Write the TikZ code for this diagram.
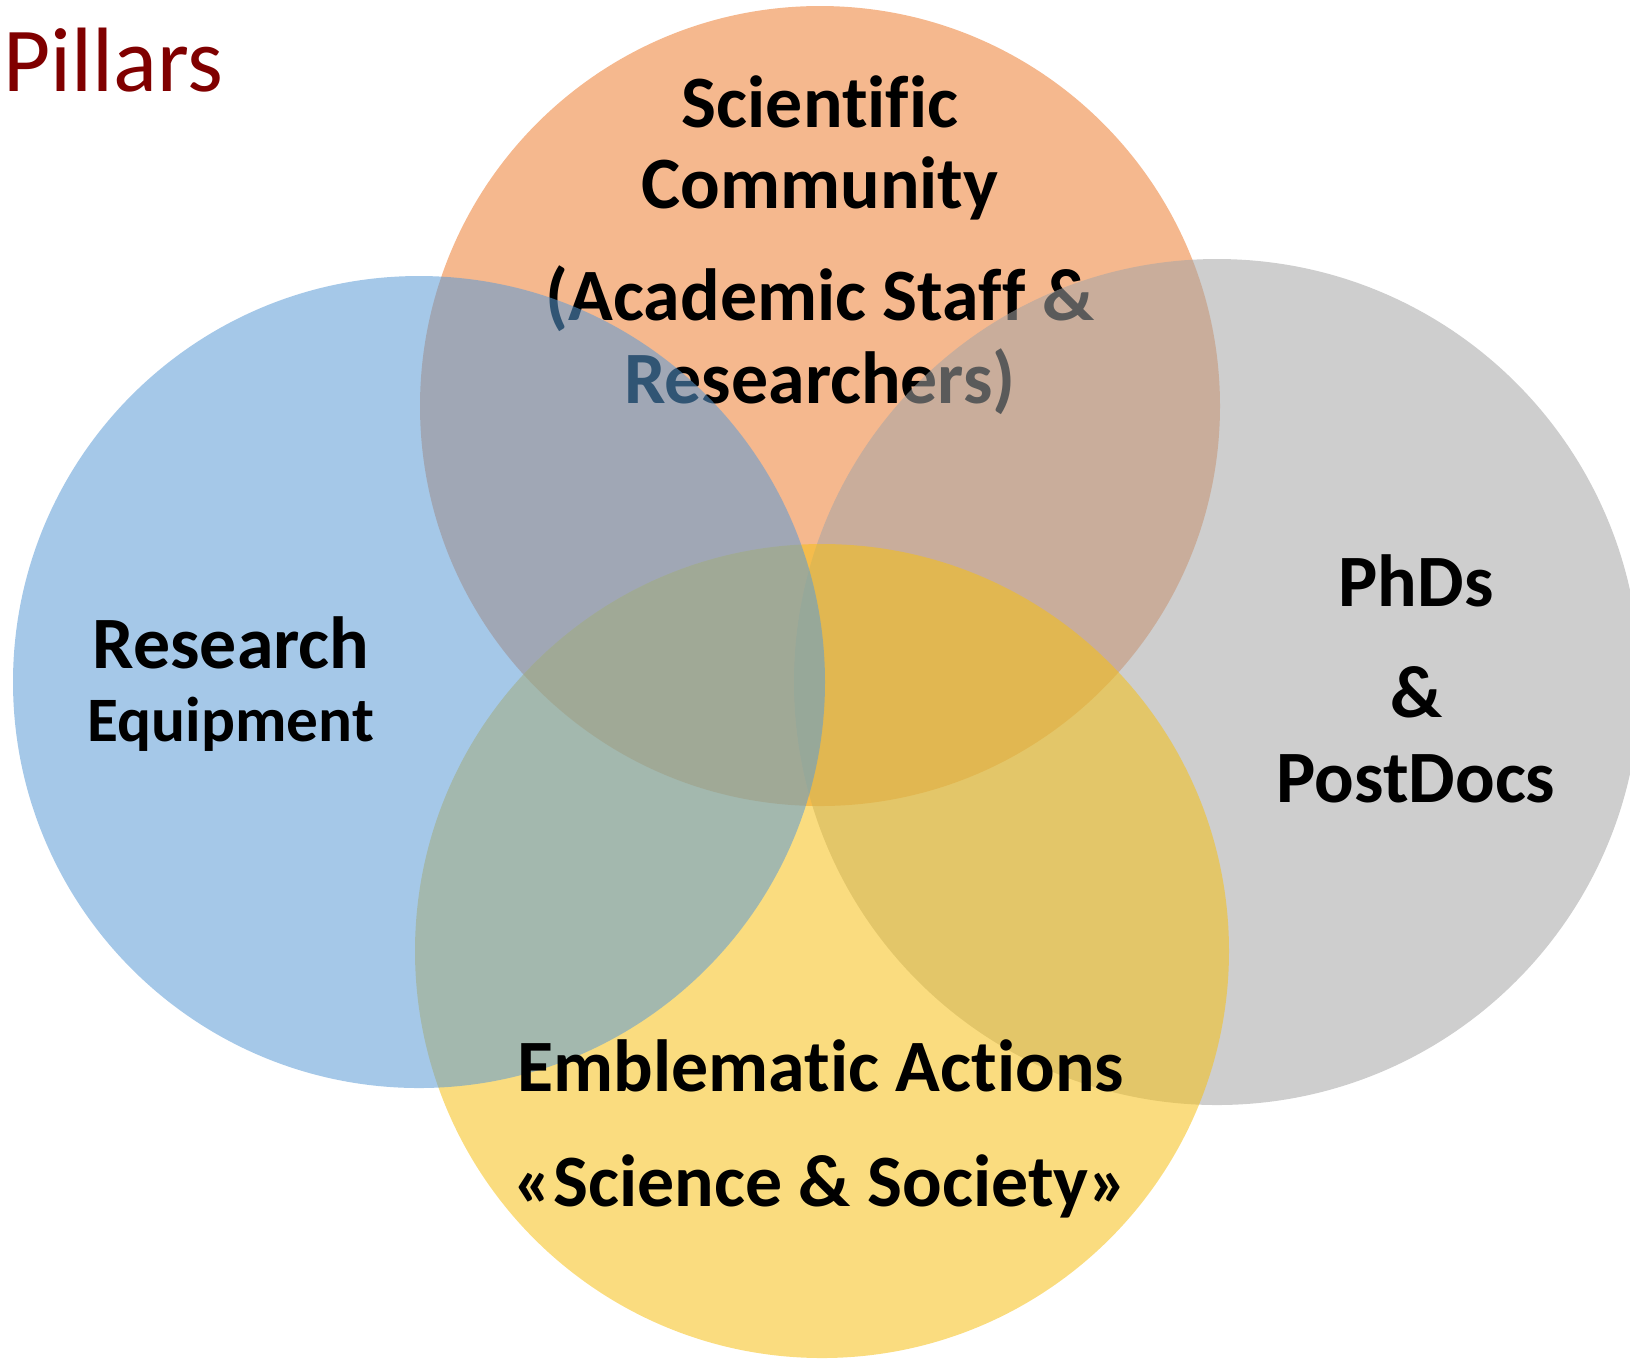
\documentclass[tikz,border=0pt]{standalone}
\usepackage{fontspec}
\setmainfont[RawFeature={-liga}]{Carlito}
\definecolor{pillarred}{RGB}{128,0,0}
\definecolor{sciorange}{RGB}{237,125,49}
\definecolor{equipblue}{RGB}{91,155,213}
\definecolor{phdgrey}{RGB}{165,165,165}
\definecolor{actgold}{RGB}{246,192,22}
\tikzset{
  pillar/.style={fill=#1, fill opacity=0.55, draw=none},
  lbl/.style={font=\bfseries\fontsize{21}{25}\selectfont, anchor=base, inner sep=0pt},
  small lbl/.style={lbl, font=\bfseries\fontsize{18}{22}\selectfont}
}
\begin{document}
\begin{tikzpicture}[x=0.01cm, y=0.01cm]
    \useasboundingbox (0,0) rectangle (1630,-1362);
    % centres of the four pillars
    \coordinate (Sci) at (820,-406);
    \coordinate (Equ) at (419,-682);
    \coordinate (Phd) at (1217,-682);
    \coordinate (Act) at (822,-951);

    \node [anchor=base west, inner sep=0pt, text=pillarred,
           font=\fontsize{26}{30}\selectfont] (title) at (3,-91) {Pillars};

    % orange one first, its text gets covered by grey and blue
    \fill [pillar=sciorange] (Sci) circle (400);
    \node [lbl] (sci1) at (820,-127) {Scientific};
    \node [lbl] (sci2) at (820,-208) {Community};
    \node [lbl] (sci3) at (820,-320) {(Academic Staff \&};
    \node [lbl] (sci4) at (820,-403) {Researchers)};

    \foreach \c/\col/\r in {Phd/phdgrey/423, Act/actgold/407, Equ/equipblue/406} {
        \fill [pillar=\col] (\c) circle (\r);
    }

    \node [lbl] (equ1) at (231,-668) {Research};
    \node [small lbl] (equ2) at (231,-741) {Equipment};

    \node [lbl] (phd1) at (1416,-606) {PhDs};
    \node [lbl] (phd2) at (1416,-717) {\&};
    \node [lbl] (phd3) at (1416,-802) {PostDocs};

    \node [lbl] (act1) at (821,-1091) {Emblematic Actions};
    \node [lbl] (act2) at (821,-1206) {«Science \& Society»};
\end{tikzpicture}
\end{document}
